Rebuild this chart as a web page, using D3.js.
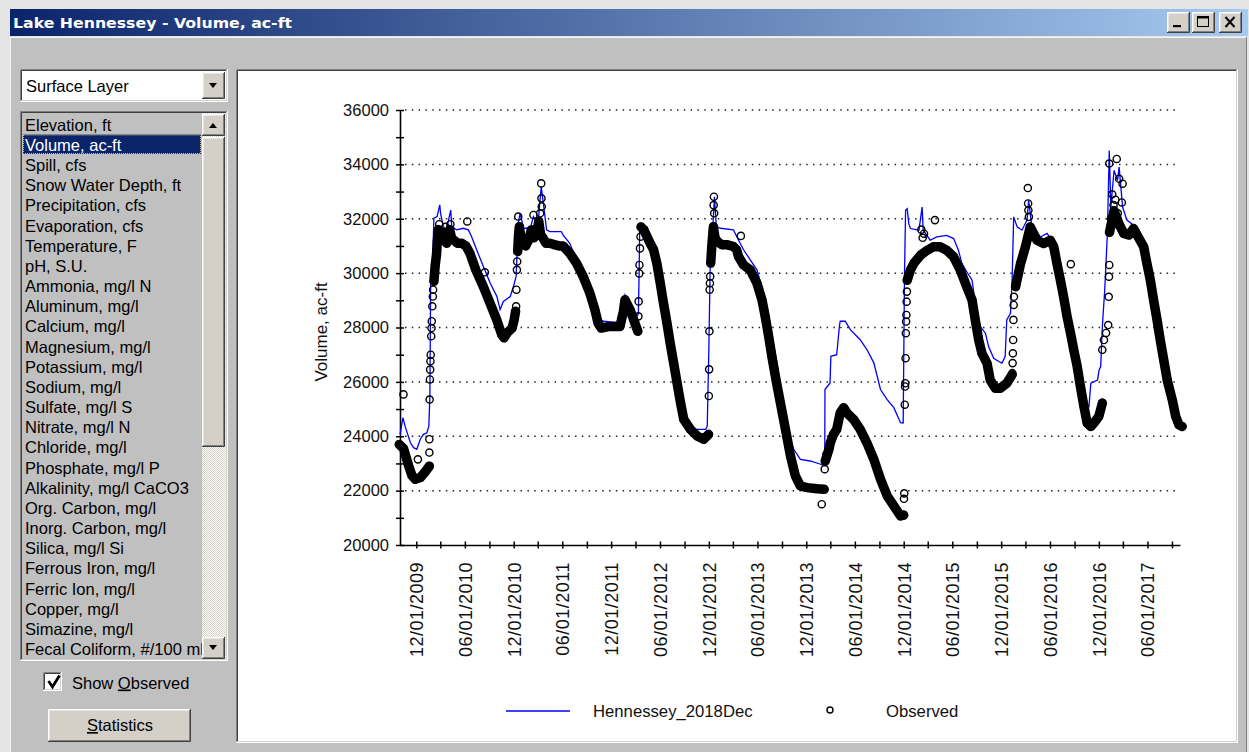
<!DOCTYPE html>
<html>
<head>
<meta charset="utf-8">
<script src="https://cdn.jsdelivr.net/npm/d3@7"></script>
<style>
  body { margin: 0; overflow: hidden; background: #c0c0c0; }
  svg { display: block; }
  text { font-family: "Liberation Sans", Arial, sans-serif; }
</style>
</head>
<body>
<svg id="win"></svg>
<script>
// ---- values ----
const windowTitle = "Lake Hennessey - Volume, ac-ft";
const layerName = "Surface Layer";
const parameterList = [
  "Elevation, ft", "Volume, ac-ft", "Spill, cfs", "Snow Water Depth, ft",
  "Precipitation, cfs", "Evaporation, cfs", "Temperature, F", "pH, S.U.",
  "Ammonia, mg/l N", "Aluminum, mg/l", "Calcium, mg/l", "Magnesium, mg/l",
  "Potassium, mg/l", "Sodium, mg/l", "Sulfate, mg/l S", "Nitrate, mg/l N",
  "Chloride, mg/l", "Phosphate, mg/l P", "Alkalinity, mg/l CaCO3",
  "Org. Carbon, mg/l", "Inorg. Carbon, mg/l", "Silica, mg/l Si",
  "Ferrous Iron, mg/l", "Ferric Ion, mg/l", "Copper, mg/l", "Simazine, mg/l",
  "Fecal Coliform, #/100 ml"
];
const selectedParameter = "Volume, ac-ft";
const yLabel = "Volume, ac-ft";
const seriesNames = ["Hennessey_2018Dec", "Observed"];
const yTicks = d3.range(20000, 36001, 1000);   // labels on every 2000

// simulated volume (blue line)
const modelSeries = [
  ["2009-10-01",24070],["2009-10-12",24680],["2009-10-20",24370],["2009-11-09",23760],["2009-11-21",23580],
  ["2009-12-03",23520],["2009-12-16",23890],["2009-12-28",24070],["2010-01-10",24130],["2010-01-17",24370],
  ["2010-01-21",25500],["2010-01-24",29880],["2010-02-01",30610],["2010-02-05",32020],["2010-02-17",32080],
  ["2010-02-27",32510],["2010-03-02",32200],["2010-03-12",31710],["2010-03-24",31590],["2010-04-09",32320],
  ["2010-04-13",31710],["2010-05-01",31590],["2010-05-26",31650],["2010-06-14",31590],["2010-06-26",31350],
  ["2010-07-15",30860],["2010-08-09",30250],["2010-09-04",29630],["2010-09-29",29140],["2010-10-11",28660],
  ["2010-10-23",28960],["2010-11-18",29140],["2010-11-30",29510],["2010-12-10",29880],["2010-12-18",31840],
  ["2010-12-25",32200],["2011-01-07",31650],["2011-02-01",31650],["2011-02-13",32080],["2011-03-02",31800],
  ["2011-03-14",33180],["2011-03-23",32500],["2011-04-03",31590],["2011-04-15",31530],["2011-05-28",31530],
  ["2011-06-04",31400],["2011-06-29",31100],["2011-07-24",30490],["2011-08-18",29880],["2011-09-12",29140],
  ["2011-10-07",28410],["2011-11-01",28230],["2012-01-03",28170],["2012-01-16",28660],["2012-01-22",29200],
  ["2012-02-04",28950],["2012-03-05",28410],["2012-03-12",28500],["2012-03-15",30120],["2012-03-17",31710],
  ["2012-04-13",31710],["2012-05-08",30980],["2012-06-02",29760],["2012-06-27",28300],["2012-07-22",26800],
  ["2012-08-17",25300],["2012-08-29",24700],["2012-09-23",24250],["2012-11-19",24250],["2012-11-25",24370],
  ["2012-12-01",27190],["2012-12-07",30860],["2012-12-13",31220],["2012-12-22",32810],["2012-12-29",31710],
  ["2013-01-14",31650],["2013-03-03",31590],["2013-03-22",31220],["2013-04-10",30860],["2013-05-05",30490],
  ["2013-05-30",30120],["2013-06-24",29270],["2013-07-19",28040],["2013-08-13",26700],["2013-09-01",25500],
  ["2013-09-20",24130],["2013-10-15",23520],["2013-11-09",23150],["2013-12-16",23090],["2014-01-24",22970],
  ["2014-02-08",22910],["2014-02-09",25720],["2014-02-28",25960],["2014-03-03",26940],["2014-03-25",27000],
  ["2014-04-04",28040],["2014-04-07",28230],["2014-04-26",28230],["2014-05-15",27920],["2014-06-21",27550],
  ["2014-07-16",27190],["2014-08-11",26700],["2014-09-05",25720],["2014-09-30",25350],["2014-10-25",25050],
  ["2014-11-19",24500],["2014-11-29",24490],["2014-12-04",29990],["2014-12-08",32310],["2014-12-14",32370],
  ["2014-12-20",31820],["2014-12-26",31640],["2015-01-27",31580],["2015-02-08",32430],["2015-02-12",31580],
  ["2015-03-10",31210],["2015-04-04",31330],["2015-05-11",31390],["2015-06-06",31270],["2015-06-24",30840],
  ["2015-07-07",30360],["2015-07-25",30050],["2015-08-14",29740],["2015-08-26",28890],["2015-09-14",28030],
  ["2015-10-03",27790],["2015-10-15",27300],["2015-11-03",26870],["2015-11-22",26750],["2015-12-04",26690],
  ["2015-12-16",26930],["2015-12-22",28280],["2016-01-05",28520],["2016-01-11",29740],["2016-01-17",32070],
  ["2016-01-30",31700],["2016-02-17",31580],["2016-03-07",31950],["2016-03-13",32680],["2016-03-25",31700],
  ["2016-04-26",31330],["2016-05-21",31460],["2016-06-15",31090],["2016-07-10",29990],["2016-07-29",28900],
  ["2016-08-17",27790],["2016-09-11",26810],["2016-10-06",25830],["2016-10-19",25160],["2016-10-25",25100],
  ["2016-11-01",25950],["2016-11-26",26070],["2016-12-02",26440],["2016-12-08",26560],["2016-12-14",28030],
  ["2016-12-23",29380],["2017-01-02",31460],["2017-01-09",34510],["2017-01-15",32430],["2017-01-27",33780],
  ["2017-02-09",33410],["2017-02-15",33900],["2017-02-28",32430],["2017-03-16",31950],["2017-04-10",31760],
  ["2017-05-05",31460],["2017-05-30",30840],["2017-06-24",29010],["2017-07-19",27540],["2017-08-13",26070],
  ["2017-09-14",24730],["2017-10-01",24360]
];

// observed volume, continuous daily runs (null = break between runs)
const observedRuns = [
  ["2009-09-28",23700],["2009-10-14",23550],["2009-11-03",22900],["2009-11-15",22550],["2009-11-27",22420],
  ["2009-12-16",22480],["2010-01-04",22700],["2010-01-19",22900],
  null,
  ["2010-02-05",29700],["2010-02-10",30300],["2010-02-15",30700],["2010-02-18",31200],["2010-02-22",31600],
  ["2010-03-01",31400],["2010-03-08",31200],["2010-03-15",31500],["2010-03-25",31100],["2010-04-05",31600],
  ["2010-04-12",31300],["2010-04-22",31200],["2010-05-05",31100],["2010-05-20",31100],["2010-06-05",31000],
  ["2010-06-20",30730],["2010-07-12",30120],["2010-08-09",29510],["2010-09-03",28900],["2010-09-28",28290],
  ["2010-10-17",27740],["2010-10-26",27620],["2010-11-06",27800],["2010-11-25",27980],["2010-12-03",28300],
  ["2010-12-08",28600],
  null,
  ["2010-12-16",30800],["2010-12-19",31400],["2010-12-22",31710],["2010-12-28",31300],["2011-01-05",31220],
  ["2011-01-15",31000],["2011-01-25",31200],["2011-02-05",31590],["2011-02-15",31300],["2011-02-25",31500],
  ["2011-03-05",31900],["2011-03-12",31400],["2011-03-20",31300],["2011-04-01",31100],["2011-04-15",31100],
  ["2011-05-01",31050],["2011-05-20",31000],["2011-06-04",31000],["2011-06-29",30730],["2011-07-24",30370],
  ["2011-08-18",29880],["2011-09-12",29270],["2011-10-01",28660],["2011-10-13",28160],["2011-10-25",27980],
  ["2011-11-26",28040],["2012-01-03",28040],["2012-01-16",28600],["2012-01-22",29020],["2012-02-10",28650],
  ["2012-02-28",28160],["2012-03-10",27860],
  null,
  ["2012-03-22",31700],["2012-04-01",31590],["2012-04-13",31350],["2012-04-25",31100],["2012-05-08",30860],
  ["2012-05-20",30370],["2012-06-02",29630],["2012-06-14",28900],["2012-06-27",28170],["2012-07-09",27430],
  ["2012-07-22",26700],["2012-08-04",25960],["2012-08-17",25230],["2012-08-29",24620],["2012-09-23",24250],
  ["2012-10-18",24010],["2012-11-12",23890],["2012-11-30",24070],
  null,
  ["2012-12-08",30370],["2012-12-12",30980],["2012-12-18",31710],["2012-12-24",31300],["2013-01-02",31160],
  ["2013-01-20",31040],["2013-02-09",31040],["2013-03-03",30980],["2013-03-15",30860],["2013-03-22",30610],
  ["2013-04-10",30300],["2013-05-05",30120],["2013-05-30",29630],["2013-06-18",29020],["2013-06-30",28410],
  ["2013-07-13",27680],["2013-07-25",26940],["2013-08-07",26210],["2013-08-26",25230],["2013-09-14",24250],
  ["2013-10-03",23270],["2013-10-21",22540],["2013-11-09",22170],["2013-12-04",22110],["2014-01-11",22070],
  ["2014-02-06",22050],
  null,
  ["2014-02-10",23090],["2014-02-24",23520],["2014-03-01",23760],["2014-03-13",24070],["2014-03-25",24250],
  ["2014-04-07",24860],["2014-04-20",25050],["2014-05-02",24860],["2014-05-27",24620],["2014-06-21",24250],
  ["2014-07-16",23760],["2014-08-11",23150],["2014-09-05",22420],["2014-09-30",21810],["2014-10-25",21440],
  ["2014-11-19",21070],["2014-12-01",21100],
  null,
  ["2014-12-14",29740],["2014-12-26",30110],["2015-01-08",30360],["2015-02-02",30660],["2015-02-27",30840],
  ["2015-03-22",30970],["2015-04-16",30970],["2015-05-11",30840],["2015-06-06",30600],["2015-07-01",30110],
  ["2015-07-25",29500],["2015-08-14",29010],["2015-08-26",28280],["2015-09-08",27540],["2015-09-20",27050],
  ["2015-10-09",26690],["2015-10-21",26070],["2015-11-09",25770],["2015-11-28",25770],["2015-12-22",25950],
  ["2016-01-11",26260],
  null,
  ["2016-01-24",29500],["2016-02-12",30360],["2016-03-01",30970],["2016-03-19",31700],["2016-04-13",31210],
  ["2016-05-08",31090],["2016-06-02",31210],["2016-06-15",30970],["2016-06-27",30360],["2016-07-10",29740],
  ["2016-07-22",29130],["2016-08-04",28400],["2016-08-17",27790],["2016-08-29",27180],["2016-09-11",26560],
  ["2016-09-23",25830],["2016-10-06",25100],["2016-10-18",24490],["2016-11-01",24360],["2016-11-13",24490],
  ["2016-12-01",24730],["2016-12-14",25220],
  null,
  ["2017-01-10",31500],["2017-01-27",32300],["2017-02-15",31800],["2017-03-04",31460],["2017-03-23",31400],
  ["2017-04-10",31640],["2017-04-29",31300],["2017-05-18",30970],["2017-05-30",30360],["2017-06-12",29740],
  ["2017-06-24",29010],["2017-07-07",28280],["2017-07-19",27540],["2017-08-01",26810],["2017-08-14",26070],
  ["2017-09-02",25340],["2017-09-15",24730],["2017-09-27",24420],["2017-10-09",24360]
];

// observed volume, scattered readings (fast rises, spikes, outliers)
const observedScatter = [
  ["2009-10-14",25540],["2009-12-07",23150],["2010-01-19",23400],["2010-01-19",23890],["2010-01-20",25350],
  ["2010-01-21",26090],["2010-01-22",26450],["2010-01-23",26760],["2010-01-24",27000],["2010-01-26",27680],
  ["2010-01-27",27980],["2010-01-28",28230],["2010-01-30",28780],["2010-02-01",29140],["2010-02-02",29390],
  ["2010-02-25",31800],["2010-03-20",31700],["2010-04-08",31800],["2010-06-10",31900],["2010-08-15",30030],
  ["2010-12-10",28780],["2010-12-11",29390],["2010-12-13",30120],["2010-12-14",30430],["2010-12-18",32080],
  ["2011-02-13",32140],["2011-03-10",32200],["2011-03-14",33300],["2011-03-15",32750],["2011-03-16",32450],
  ["2012-03-12",28410],["2012-03-13",28960],["2012-03-15",29990],["2012-03-16",30300],["2012-03-18",30910],
  ["2012-03-20",31340],
  ["2012-12-01",25480],["2012-12-02",26460],["2012-12-03",27860],["2012-12-04",29390],["2012-12-05",29630],
  ["2012-12-06",29880],["2012-12-19",32500],["2012-12-20",32810],["2012-12-21",32200],
  ["2013-03-31",31370],["2014-01-28",21500],["2014-02-08",22790],["2014-02-14",23330],
  ["2014-12-02",21700],["2014-12-03",21900],["2014-12-05",25160],["2014-12-06",25830],["2014-12-07",25950],
  ["2014-12-08",26870],["2014-12-09",27790],["2014-12-10",28220],["2014-12-11",28460],["2014-12-12",28950],
  ["2014-12-13",29320],
  ["2015-02-05",31600],["2015-02-10",31300],["2015-02-15",31450],["2015-03-28",31950],
  ["2016-01-12",26320],["2016-01-13",26690],["2016-01-14",27050],["2016-01-15",27540],["2016-01-16",28280],
  ["2016-01-17",28830],["2016-01-18",29130],
  ["2016-03-10",33130],["2016-03-11",32560],["2016-03-12",32310],["2016-03-14",32070],["2016-08-18",30330],
  ["2016-12-14",27180],["2016-12-20",27540],["2016-12-28",27800],["2017-01-05",28090],["2017-01-07",29130],
  ["2017-01-08",29870],["2017-01-09",30300],
  ["2017-01-09",34030],["2017-01-15",32000],["2017-01-20",32900],["2017-01-25",32500],["2017-02-01",32700],
  ["2017-02-06",34200],["2017-02-10",32200],["2017-02-15",33470],["2017-02-25",32600],["2017-02-28",33290]
];

// ---- drawing ----
const W = 1249, H = 752;
const parse = d3.timeParse("%Y-%m-%d");
const svg = d3.select("#win").attr("width", W).attr("height", H);
const defs = svg.append("defs");

const grad = defs.append("linearGradient").attr("id", "titlebar");
grad.append("stop").attr("offset", "0%").attr("stop-color", "#0a246a");
grad.append("stop").attr("offset", "100%").attr("stop-color", "#a6caf0");

// dithered scroll track
const pat = defs.append("pattern").attr("id", "dither")
  .attr("width", 2).attr("height", 2).attr("patternUnits", "userSpaceOnUse");
pat.append("rect").attr("width", 2).attr("height", 2).attr("fill", "#ffffff");
pat.append("rect").attr("width", 1).attr("height", 1).attr("fill", "#d4d0c8");
pat.append("rect").attr("x", 1).attr("y", 1).attr("width", 1).attr("height", 1).attr("fill", "#d4d0c8");

defs.append("clipPath").attr("id", "listclip")
  .append("rect").attr("x", 22).attr("y", 113).attr("width", 180).attr("height", 546);

// 3d borders, classic windows style
function bevel(g, x, y, w, h, fill, raised) {
  const tl1 = raised ? "#ffffff" : "#808080", tl2 = raised ? "#e6e6e6" : "#404040";
  const br1 = raised ? "#404040" : "#ffffff", br2 = raised ? "#808080" : "#d4d0c8";
  g.append("rect").attr("x", x).attr("y", y).attr("width", w).attr("height", h).attr("fill", fill);
  g.append("path").attr("d", `M${x + 0.5},${y + h - 1}V${y + 0.5}H${x + w - 1}`).attr("stroke", tl1).attr("fill", "none");
  g.append("path").attr("d", `M${x + 1.5},${y + h - 2}V${y + 1.5}H${x + w - 2}`).attr("stroke", tl2).attr("fill", "none");
  g.append("path").attr("d", `M${x},${y + h - 0.5}H${x + w - 0.5}V${y}`).attr("stroke", br1).attr("fill", "none");
  g.append("path").attr("d", `M${x + 1},${y + h - 1.5}H${x + w - 1.5}V${y + 1}`).attr("stroke", br2).attr("fill", "none");
}

// window frame
svg.append("rect").attr("width", W).attr("height", H).attr("fill", "#e4e4e4");
svg.append("rect").attr("x", 10).attr("y", 9).attr("width", 1238).attr("height", 27).attr("fill", "url(#titlebar)");
svg.append("text").attr("x", 13).attr("y", 28)
  .style("font-family", "'DejaVu Sans', sans-serif").style("font-weight", "bold").style("font-size", "14.5px")
  .attr("textLength", 279).attr("lengthAdjust", "spacingAndGlyphs")
  .attr("fill", "#fff").text(windowTitle);

const body = svg.append("g");
body.append("rect").attr("x", 10).attr("y", 37).attr("width", 1237).attr("height", 715).attr("fill", "#c0c0c0");
body.append("path").attr("d", "M10.5,752V37.5H1247").attr("stroke", "#f4f4f4").attr("fill", "none");
body.append("path").attr("d", "M1246.5,37V752").attr("stroke", "#808080").attr("fill", "none");

// title buttons
const tb = svg.append("g");
[[1167, "min"], [1192, "max"], [1219, "close"]].forEach(([bx, kind]) => {
  bevel(tb, bx, 12, 23, 21, "#d4d0c8", true);
  if (kind === "min") tb.append("rect").attr("x", bx + 6).attr("y", 25).attr("width", 8).attr("height", 2.2).attr("fill", "#000");
  if (kind === "max") {
    tb.append("rect").attr("x", bx + 5.5).attr("y", 16.5).attr("width", 11).attr("height", 10).attr("fill", "none").attr("stroke", "#000");
    tb.append("rect").attr("x", bx + 5.5).attr("y", 16.5).attr("width", 11).attr("height", 2).attr("fill", "#000");
  }
  if (kind === "close") {
    tb.append("path").attr("d", `M${bx + 6.5},${17}L${bx + 15.5},${27}M${bx + 15.5},${17}L${bx + 6.5},${27}`)
      .attr("stroke", "#000").attr("stroke-width", 2);
  }
});

// ---- left panel ----
const left = svg.append("g");
bevel(left, 20, 69, 208, 33, "#ffffff", false);
bevel(left, 202, 72, 23, 27, "#d4d0c8", true);
left.append("path").attr("d", "M209,83h8l-4,5z").attr("fill", "#000");
left.append("text").attr("x", 26).attr("y", 92).style("font-size", "16.5px").attr("fill", "#000").text(layerName);

bevel(left, 20, 111, 208, 550, "#c0c0c0", false);
// scrollbar
left.append("rect").attr("x", 202).attr("y", 113).attr("width", 24).attr("height", 546).attr("fill", "url(#dither)");
bevel(left, 202, 114, 23, 22, "#d4d0c8", true);
left.append("path").attr("d", "M209,128h8l-4,-5z").attr("fill", "#000");
bevel(left, 202, 137, 23, 310, "#d4d0c8", true);
bevel(left, 202, 637, 23, 22, "#d4d0c8", true);
left.append("path").attr("d", "M209,645h8l-4,5z").attr("fill", "#000");

const itemH = 20.17;
const selIdx = parameterList.indexOf(selectedParameter);
const items = left.append("g").attr("clip-path", "url(#listclip)");
items.append("rect").attr("x", 23).attr("y", 134.5 + (selIdx - 1) * itemH).attr("width", 178).attr("height", 19.5)
  .attr("fill", "#0a246a");
items.append("rect").attr("x", 23.5).attr("y", 135 + (selIdx - 1) * itemH).attr("width", 177).attr("height", 18.5)
  .attr("fill", "none").attr("stroke", "#d8c070").attr("stroke-dasharray", "1,1");
items.selectAll("text.item")
  .data(parameterList)
  .join("text")
  .attr("class", "item")
  .attr("x", 25)
  .attr("y", (d, i) => 130.7 + i * itemH)
  .style("font-size", "16.5px")
  .attr("fill", (d) => (d === selectedParameter ? "#fff" : "#000"))
  .text((d) => d);

// show observed checkbox
bevel(left, 43, 672, 19, 19, "#ffffff", false);
left.append("path").attr("d", "M48.5,681L52.5,687L59.5,675.5").attr("fill", "none")
  .attr("stroke", "#000").attr("stroke-width", 2.8);
const chk = left.append("text").attr("x", 72).attr("y", 688.5).style("font-size", "16.5px").attr("fill", "#000");
chk.append("tspan").text("Show ");
chk.append("tspan").style("text-decoration", "underline").text("O");
chk.append("tspan").text("bserved");

bevel(left, 48, 709, 143, 33, "#d4d0c8", true);
const st = left.append("text").attr("x", 120).attr("y", 731).attr("text-anchor", "middle")
  .style("font-size", "16.5px").attr("fill", "#000");
st.append("tspan").style("text-decoration", "underline").text("S");
st.append("tspan").text("tatistics");

// ---- chart panel ----
bevel(svg.append("g"), 236, 69, 1002, 674, "#ffffff", false);

const x = d3.scaleTime()
  .domain([new Date(2009, 9, 1), new Date(2017, 9, 1)])
  .range([400, 1180]);
const y = d3.scaleLinear().domain([20000, 36000]).range([545, 110]);

const chart = svg.append("g");

// dotted grid
chart.append("g")
  .selectAll("line")
  .data(yTicks.filter((v) => v % 2000 === 0 && v > 20000))
  .join("line")
  .attr("x1", 405).attr("x2", 1180)
  .attr("y1", (d) => y(d)).attr("y2", (d) => y(d))
  .attr("stroke", "#222").attr("stroke-width", 1.5).attr("stroke-dasharray", "1.5,5.3");

// y axis
const gy = chart.append("g").attr("transform", `translate(${x.range()[0]},0)`)
  .call(d3.axisLeft(y).tickValues(yTicks).tickSize(0).tickSizeOuter(0)
    .tickFormat((d) => (d % 2000 === 0 ? d : "")));
gy.select(".domain").attr("stroke", "#000").attr("stroke-width", 1.6);
gy.selectAll(".tick line").attr("x1", -4).attr("x2", 4).attr("stroke", "#000").attr("stroke-width", 1.5);
gy.selectAll(".tick text").attr("x", -11).attr("fill", "#111")
  .style("font-family", "'Liberation Sans', Arial, sans-serif").style("font-size", "16.5px");

// x axis, quarterly ticks, labels on Dec and Jun
const xTicks = d3.timeMonth.range(new Date(2009, 11, 1), new Date(2017, 9, 2), 3);
const fmt = d3.timeFormat("%m/%d/%Y");
const gx = chart.append("g").attr("transform", `translate(0,${y.range()[0]})`)
  .call(d3.axisBottom(x).tickValues(xTicks).tickSize(0).tickSizeOuter(0)
    .tickFormat((d) => (d.getMonth() === 11 || d.getMonth() === 5 ? fmt(d) : "")));
gx.select(".domain").attr("stroke", "#000").attr("stroke-width", 1.6);
gx.selectAll(".tick line").attr("y1", -3.5).attr("y2", 3.5).attr("stroke", "#000").attr("stroke-width", 1.5);
gx.selectAll(".tick text")
  .attr("transform", "rotate(-90)")
  .attr("x", -17).attr("y", 0).attr("dy", "0.36em")
  .attr("text-anchor", "end").attr("fill", "#111")
  .style("font-family", "'Liberation Sans', Arial, sans-serif")
  .style("font-size", "18px").style("letter-spacing", "0.5px");

chart.append("text")
  .attr("transform", "translate(327,332) rotate(-90)")
  .attr("text-anchor", "middle")
  .style("font-size", "17px").attr("fill", "#111")
  .text(yLabel);

// simulated line
const line = d3.line().x((d) => x(parse(d[0]))).y((d) => y(d[1]));
chart.append("path").datum(modelSeries)
  .attr("d", line).attr("fill", "none").attr("stroke", "#0000ff").attr("stroke-width", 1.3);

// observed: dense daily readings merge into a thick band of circles
const obsLine = d3.line().defined((d) => d).x((d) => x(parse(d[0]))).y((d) => y(d[1]));
chart.append("path").datum(observedRuns)
  .attr("d", obsLine).attr("fill", "none").attr("stroke", "#000")
  .attr("stroke-width", 9.5).attr("stroke-linejoin", "round").attr("stroke-linecap", "round");

chart.append("g")
  .selectAll("circle")
  .data(observedRuns.filter((d) => d).concat(observedScatter))
  .join("circle")
  .attr("cx", (d) => x(parse(d[0])))
  .attr("cy", (d) => y(d[1]))
  .attr("r", 3.6)
  .attr("fill", "none").attr("stroke", "#000").attr("stroke-width", 1.4);

// legend
const lg = chart.append("g");
lg.append("line").attr("x1", 506).attr("x2", 570).attr("y1", 711).attr("y2", 711)
  .attr("stroke", "#0000ff").attr("stroke-width", 1.5);
lg.append("text").attr("x", 593).attr("y", 717).style("font-size", "16.7px").attr("fill", "#111").text(seriesNames[0]);
lg.append("circle").attr("cx", 830).attr("cy", 710).attr("r", 3).attr("fill", "none")
  .attr("stroke", "#000").attr("stroke-width", 1.4);
lg.append("text").attr("x", 886).attr("y", 717).style("font-size", "16.7px").attr("fill", "#111").text(seriesNames[1]);
</script>
</body>
</html>
